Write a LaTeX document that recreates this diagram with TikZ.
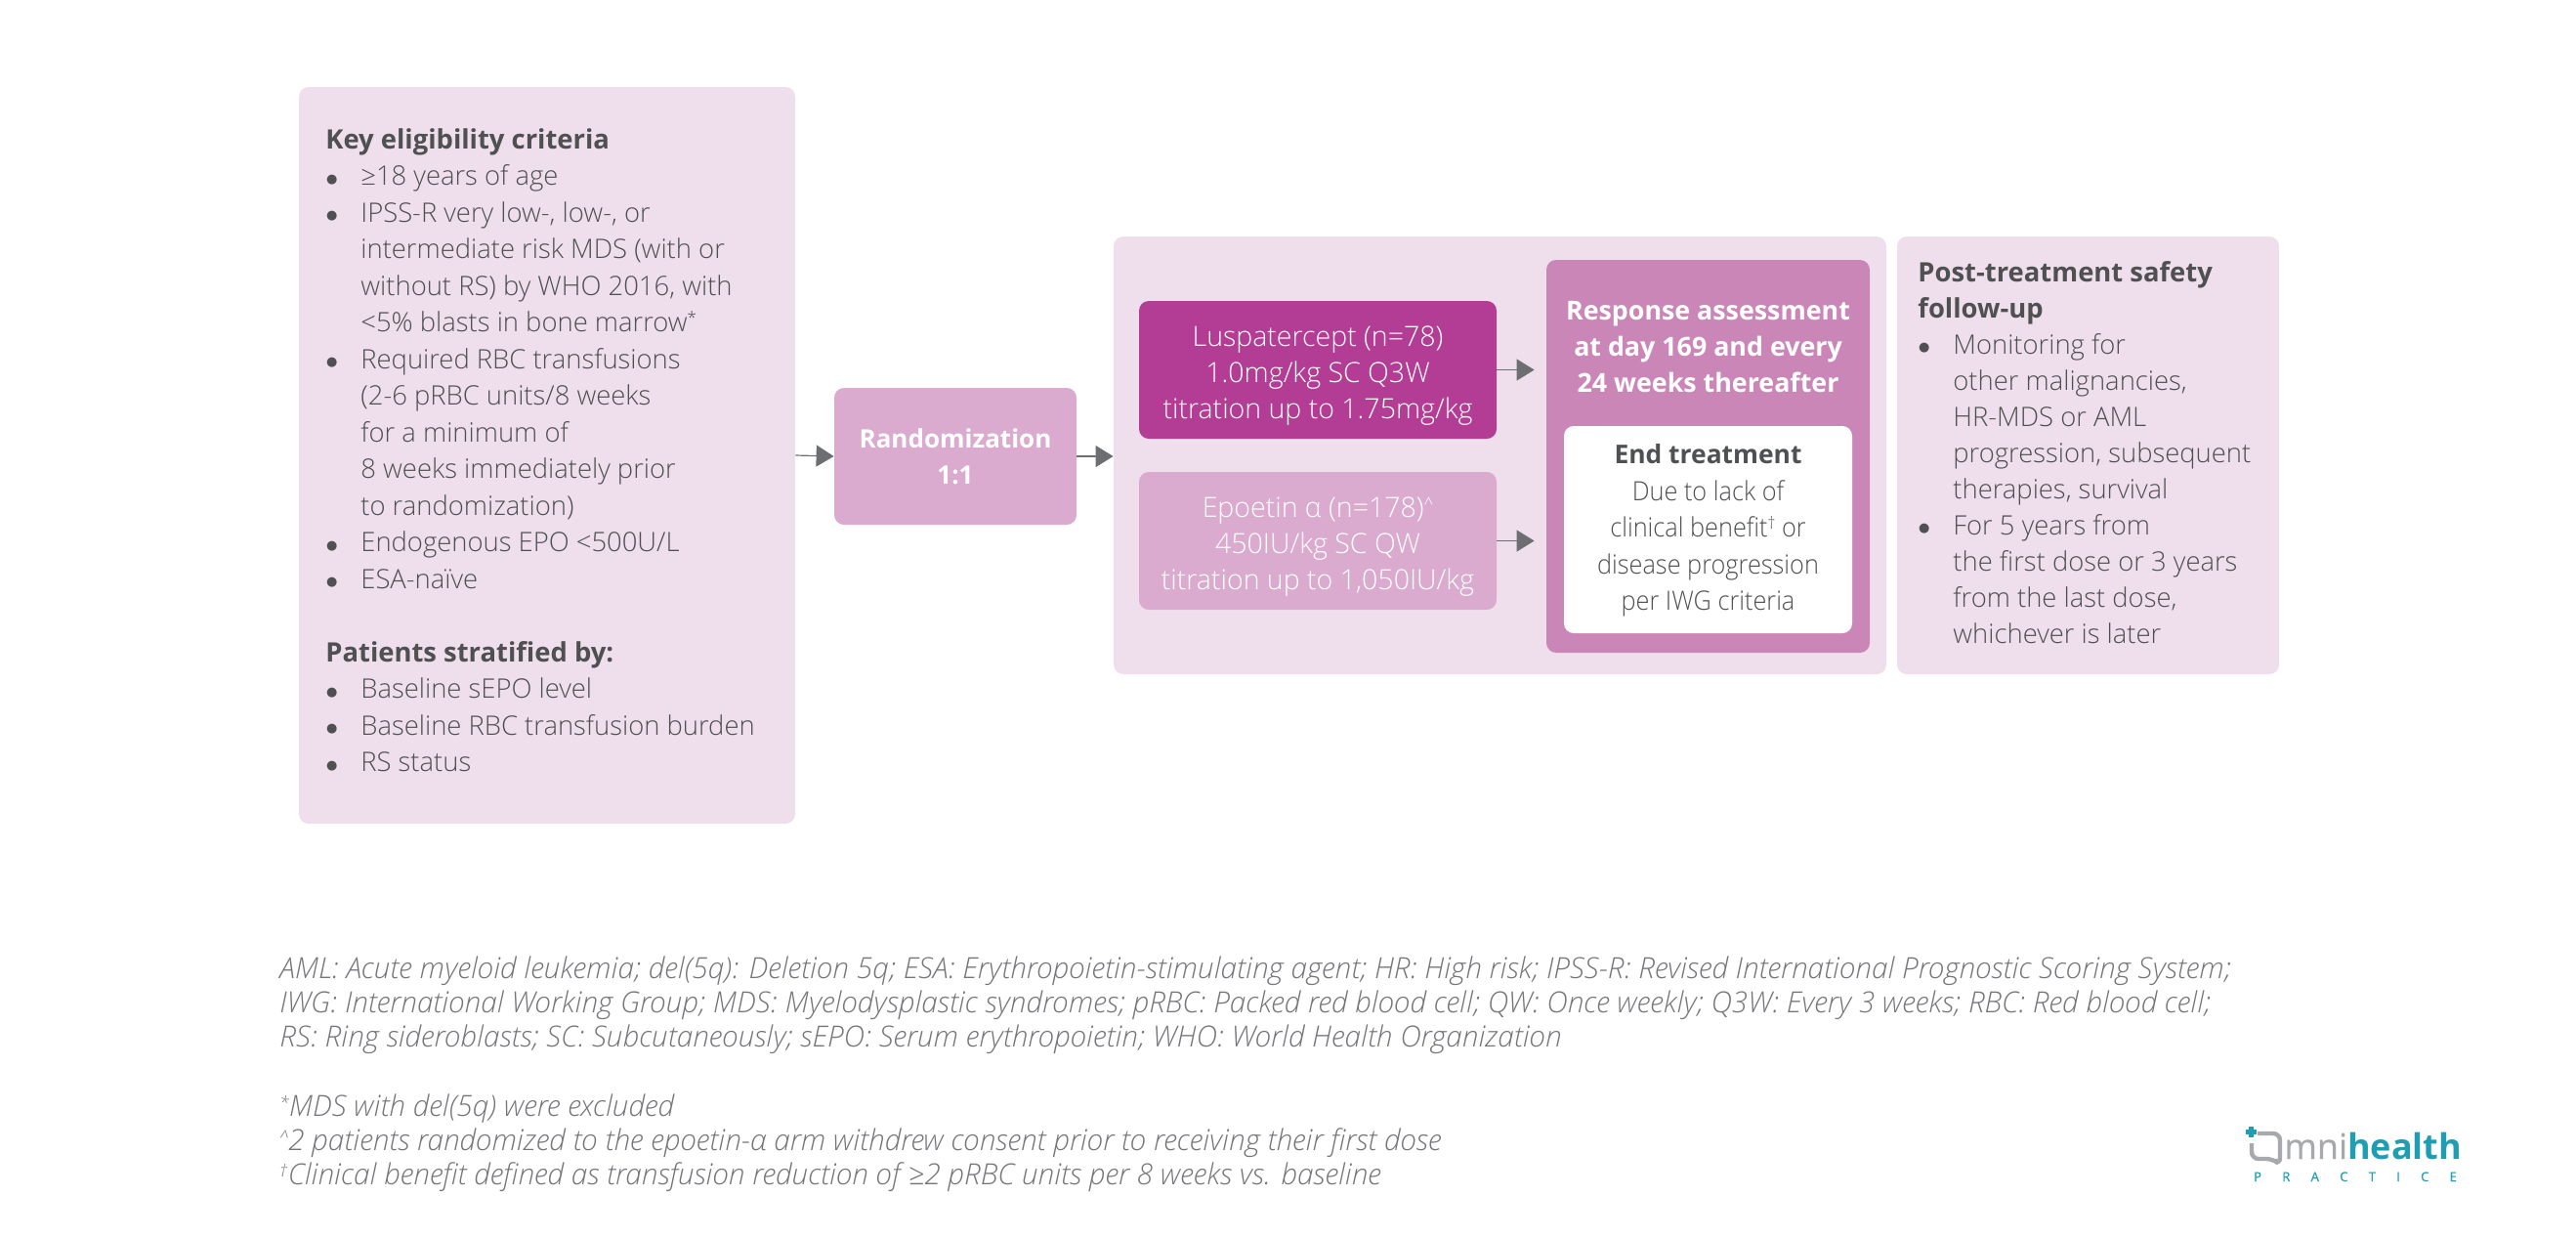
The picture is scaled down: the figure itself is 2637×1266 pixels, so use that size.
\documentclass[tikz,border=0pt]{standalone}
\usepackage{fontspec}
\setmainfont{Open Sans Light}[BoldFont={Open Sans Bold},ItalicFont={Open Sans Light Italic}]
\newfontfamily\narrowfont{Open Sans Light}[FakeStretch=0.93]
\newfontfamily\logoreg{Open Sans}[FakeBold=0.6]
\newfontfamily\symfont{DejaVu Sans}
\usetikzlibrary{arrows.meta}
\definecolor{panelpink}{HTML}{EFDFEC}
\definecolor{randpink}{HTML}{DAABCF}
\definecolor{luspmag}{HTML}{B33C95}
\definecolor{resppink}{HTML}{CB86B8}
\definecolor{bodygray}{HTML}{4F5052}
\definecolor{notegray}{HTML}{747578}
\definecolor{arrowgray}{HTML}{6D6E71}
\definecolor{logoteal}{HTML}{1F9DB2}
\definecolor{logogray}{HTML}{A7A9AC}
\newcommand{\bul}{\makebox[18pt][l]{\hspace{0.4pt}\raisebox{1.3pt}{\symfont\fontsize{6.5}{6.5}\selectfont ●}}}
\newcommand{\ind}{\hspace*{18pt}}
\newcommand{\supm}[1]{\raisebox{4pt}{\fontsize{8.5}{9}\selectfont #1}}
\tikzset{
  px/.style={x=0.5pt,y=-0.5pt},
  box/.style={rectangle,rounded corners=5pt,inner sep=0pt},
  panel/.style={box,fill=panelpink},
  boxtext/.style={inner sep=0pt,align=center,font=\fontsize{14.25}{18.5}\selectfont},
  headtext/.style={inner sep=0pt,align=center,text=white,font=\fontsize{13.4}{18.5}\selectfont\bfseries},
  blocktext/.style={inner sep=0pt,align=left,text=bodygray,font=\fontsize{13.7}{18.5}\selectfont},
  notetext/.style={inner sep=0pt,align=left,text=notegray,font=\fontsize{14.9}{17.6}\selectfont\itshape},
  conn/.style={arrowgray,line width=0.6pt,-{Triangle[length=9pt,width=11pt]}},
}
\begin{document}
\begin{tikzpicture}[px]
\useasboundingbox (0,0) rectangle (2637,1266);
% panels
\node[panel,minimum width=254pt,minimum height=377pt] (elig) at (560,466) {};
\node[box,fill=randpink,minimum width=124pt,minimum height=70pt] (rand) at (978,467) {};
\node[headtext,font=\fontsize{13}{18.5}\selectfont\bfseries] (randtext) at (978,467) {Randomization\\1:1};
\node[panel,minimum width=395.5pt,minimum height=224pt] (trial) at (1535.5,466) {};
\node[panel,minimum width=195.5pt,minimum height=224pt] (post) at (2137.5,466) {};
\node[box,fill=luspmag,minimum width=183pt,minimum height=70.5pt] (lusp) at (1349,378.5) {};
\node[boxtext,text=white] (lusptext) at (1349,385) {Luspatercept (n=78)\\1.0mg/kg SC Q3W\\titration up to 1.75mg/kg};
\node[box,fill=randpink,minimum width=183pt,minimum height=70.5pt] (epo) at (1349,553.5) {};
\node[boxtext,text=white] (epotext) at (1349,560) {Epoetin α (n=178)\supm{\^{}}\\450IU/kg SC QW\\titration up to 1,050IU/kg};
\node[box,fill=resppink,minimum width=165.5pt,minimum height=201pt] (resp) at (1748.5,467) {};
\node[headtext] (resptext) at (1748.5,355) {Response assessment\\at day 169 and every\\24 weeks thereafter};
\node[box,fill=white,minimum width=147.5pt,minimum height=106pt] (endbox) at (1748.5,542) {};
\node[boxtext,text=bodygray,font=\fontsize{13.6}{18.7}\selectfont\narrowfont] (endtext) at (1748.5,543) {{\fontsize{13.2}{18.7}\selectfont\rmfamily\bfseries End treatment}\\Due to lack of\\clinical benefit\supm{†} or\\disease progression\\per IWG criteria};
% block texts
\node[blocktext,font=\fontsize{13.7}{18.75}\selectfont,anchor=north west] (elig text) at (333,131) {{\bfseries Key eligibility criteria}\\
\bul ≥18 years of age\\
\bul IPSS-R very low-, low-, or\\
\ind intermediate risk MDS (with or\\
\ind without RS) by WHO 2016, with\\
\ind <5\% blasts in bone marrow\supm{*}\\
\bul Required RBC transfusions\\
\ind (2-6 pRBC units/8 weeks\\
\ind for a minimum of\\
\ind 8 weeks immediately prior\\
\ind to randomization)\\
\bul Endogenous EPO <500U/L\\
\bul ESA-naïve\\[18.75pt]
{\bfseries Patients stratified by:}\\
\bul Baseline sEPO level\\
\bul Baseline RBC transfusion burden\\
\bul RS status};
\node[blocktext,anchor=north west] (post text) at (1963,267) {{\bfseries Post-treatment safety}\\
{\bfseries follow-up}\\
\bul Monitoring for\\
\ind other malignancies,\\
\ind HR-MDS or AML\\
\ind progression, subsequent\\
\ind therapies, survival\\
\bul For 5 years from\\
\ind the first dose or 3 years\\
\ind from the last dose,\\
\ind whichever is later};
% connectors
\draw[conn] (elig.east) -- (rand.west);
\draw[conn] (rand.east) -- (trial.west |- rand.east);
\draw[conn,shorten >=6pt] (lusp.east) -- (lusp.east -| resp.west);
\draw[conn,shorten >=6pt] (epo.east) -- (epo.east -| resp.west);
% notes
\node[notetext,anchor=north west] (abbr) at (286,978) {AML: Acute myeloid leukemia; del(5q): Deletion 5q; ESA: Erythropoietin-stimulating agent; HR: High risk; IPSS-R: Revised International Prognostic Scoring System;\\
IWG: International Working Group; MDS: Myelodysplastic syndromes; pRBC: Packed red blood cell; QW: Once weekly; Q3W: Every 3 weeks; RBC: Red blood cell;\\
RS: Ring sideroblasts; SC: Subcutaneously; sEPO: Serum erythropoietin; WHO: World Health Organization};
\node[notetext,anchor=north west] (fn) at (286,1119) {\supm{*}MDS with del(5q) were excluded\\
\supm{\^{}}2 patients randomized to the epoetin-α arm withdrew consent prior to receiving their first dose\\
\supm{†}Clinical benefit defined as transfusion reduction of ≥2 pRBC units per 8 weeks vs. baseline};
% logo
\coordinate (logoplus) at (2304.5,1158.5);
\draw[logoteal,line width=2.4pt] (logoplus)+(-5.5,0) -- +(5.5,0) (logoplus)+(0,-5.5) -- +(0,5.5);
\draw[logogray,line width=2.2pt,rounded corners=3.5pt] (2305,1170) -- (2305,1186) -- (2327,1186) -- (2334,1192) -- (2334,1160) -- (2311,1160);
\node[inner sep=0pt,anchor=base west,font=\fontsize{18}{18}\selectfont] (logoword) at (2338,1186) {\textcolor{logogray}{\logoreg mni}\textcolor{logoteal}{\bfseries health}};
\node[inner sep=0pt,anchor=base,text=logoteal,font=\fontsize{6.6}{6}\logoreg\selectfont] (logosub) at (2411,1209) {P\hspace{10.6pt}R\hspace{10.6pt}A\hspace{10.6pt}C\hspace{10.6pt}T\hspace{10.6pt}I\hspace{10.6pt}C\hspace{10.6pt}E};
\end{tikzpicture}
\end{document}
